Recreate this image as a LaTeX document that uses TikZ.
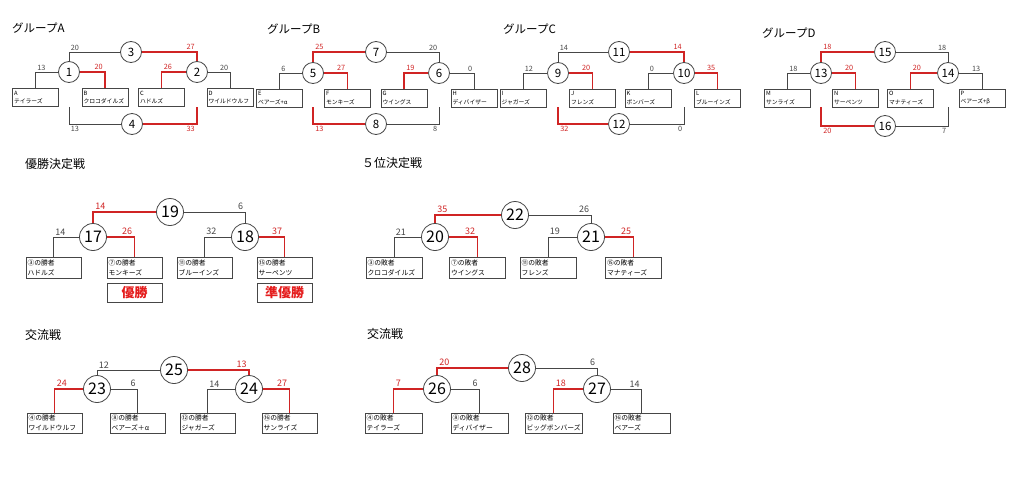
\documentclass[tikz,border=0pt]{standalone}
\usepackage{fontspec}
\setmainfont{Noto Sans CJK JP}
\definecolor{linec}{RGB}{70,70,70}
\definecolor{winred}{RGB}{208,36,36}
\definecolor{resred}{RGB}{228,28,28}

\begin{document}
\begin{tikzpicture}[x=1pt,y=-1pt,
  game/.style={circle, draw=linec, line width=0.8pt, minimum size=21pt, inner sep=0pt, font=\fontsize{11.5}{11.5}\selectfont},
  fgame/.style={game, minimum size=27pt, font=\fontsize{16}{16}\selectfont},
  team/.style={draw=linec, line width=0.8pt, align=left, inner xsep=1.5pt, inner ysep=1pt, text width=43pt, minimum height=18pt, font=\fontsize{5.8}{8.5}\selectfont},
  fteam/.style={team, text width=52pt, minimum height=21pt, font=\fontsize{6.8}{10}\selectfont},
  res/.style={draw=linec, line width=0.8pt, minimum width=55pt, minimum height=19pt, inner sep=0pt, text=resred, font=\fontsize{13}{13}\selectfont\bfseries},
  title/.style={anchor=west, inner sep=0pt, font=\fontsize{11.5}{11.5}\selectfont},
  lose/.style={draw=linec, line width=0.8pt},
  win/.style={draw=winred, line width=1.6pt},
  sc/.style={inner sep=1.5pt, text=linec, font=\fontsize{7.3}{7.3}\selectfont},
  scr/.style={sc, text=winred},
  fsc/.style={sc, font=\fontsize{9}{9}\selectfont},
  fscr/.style={fsc, text=winred}]
\useasboundingbox (0,0) rectangle (1024,482);

\node[title] (tA) at (12,28) {グループA};
\node[title] (tB) at (267,29) {グループB};
\node[title] (tC) at (503,29) {グループC};
\node[title] (tD) at (762,33) {グループD};
\node[title, font=\fontsize{12}{12}\selectfont] (tF1) at (25,164) {優勝決定戦};
\node[title, font=\fontsize{12}{12}\selectfont] (tF5) at (362,163) {５位決定戦};
\node[title, font=\fontsize{12}{12}\selectfont] (tX1) at (25,335) {交流戦};
\node[title, font=\fontsize{12}{12}\selectfont] (tX2) at (367,334) {交流戦};

\node[team] (bA) at (35.5,97.5) {A\\テイラーズ};
\node[team] (bB) at (105,97.5) {B\\クロコダイルズ};
\node[team] (bC) at (161.5,97.5) {C\\ハドルズ};
\node[team] (bD) at (230,97.5) {D\\ワイルドウルフ};
\node[game] (g1) at (69,72) {1};
\node[game] (g2) at (197,72) {2};
\node[game] (g3) at (131,52) {3};
\node[game] (g4) at (132,124) {4};
\coordinate (a4l) at (g1 |- bA.south);
\coordinate (a4r) at (g2 |- bA.south);
\draw[lose] (g1.west) -| (bA.north) node[sc, pos=.5, above right] {13};
\draw[win] (g1.east) -| (bB.north) node[scr, pos=.5, above left] {20};
\draw[lose] (g1.north) |- (g3.west) node[sc, pos=.5, above right] {20};
\draw[win] (g3.east) -| (g2.north) node[scr, pos=.5, above left] {27};
\draw[win] (g2.west) -| (bC.north) node[scr, pos=.5, above right] {26};
\draw[lose] (g2.east) -| (bD.north) node[sc, pos=.5, above left] {20};
\draw[lose] (a4l) |- (g4.west) node[sc, pos=.5, below right] {13};
\draw[win] (g4.east) -| (a4r) node[scr, pos=.5, below left] {33};

\node[team] (bE) at (279.5,98) {E\\ベアーズ+α};
\node[team] (bF) at (347.5,98) {F\\モンキーズ};
\node[team] (bG) at (404,98) {G\\ウイングス};
\node[team] (bH) at (474,98) {H\\ディバイザー};
\node[game] (g5) at (313,73) {5};
\node[game] (g6) at (439,73) {6};
\node[game] (g7) at (376,52) {7};
\node[game] (g8) at (376,124) {8};
\coordinate (a8l) at (g5 |- bE.south);
\coordinate (a8r) at (g6 |- bE.south);
\draw[lose] (g5.west) -| (bE.north) node[sc, pos=.5, above right] {6};
\draw[win] (g5.east) -| (bF.north) node[scr, pos=.5, above left] {27};
\draw[win] (g5.north) |- (g7.west) node[scr, pos=.5, above right] {25};
\draw[lose] (g7.east) -| (g6.north) node[sc, pos=.5, above left] {20};
\draw[win] (g6.west) -| (bG.north) node[scr, pos=.5, above right] {19};
\draw[lose] (g6.east) -| (bH.north) node[sc, pos=.5, above left] {0};
\draw[win] (a8l) |- (g8.west) node[scr, pos=.5, below right] {13};
\draw[lose] (g8.east) -| (a8r) node[sc, pos=.5, below left] {8};

\node[team] (bI) at (523,98) {I\\ジャガーズ};
\node[team] (bJ) at (592.5,98) {J\\フレンズ};
\node[team] (bK) at (648,98) {K\\ボンバーズ};
\node[team] (bL) at (717.5,98) {L\\ブルーインズ};
\node[game] (g9) at (558,73) {9};
\node[game] (g10) at (684,73) {10};
\node[game] (g11) at (619,52) {11};
\node[game] (g12) at (619,124) {12};
\coordinate (a12l) at (g9 |- bI.south);
\coordinate (a12r) at (g10 |- bI.south);
\draw[lose] (g9.west) -| (bI.north) node[sc, pos=.5, above right] {12};
\draw[win] (g9.east) -| (bJ.north) node[scr, pos=.5, above left] {20};
\draw[lose] (g9.north) |- (g11.west) node[sc, pos=.5, above right] {14};
\draw[win] (g11.east) -| (g10.north) node[scr, pos=.5, above left] {14};
\draw[lose] (g10.west) -| (bK.north) node[sc, pos=.5, above right] {0};
\draw[win] (g10.east) -| (bL.north) node[scr, pos=.5, above left] {35};
\draw[win] (a12l) |- (g12.west) node[scr, pos=.5, below right] {32};
\draw[lose] (g12.east) -| (a12r) node[sc, pos=.5, below left] {0};

\node[team] (bM) at (787.5,98) {M\\サンライズ};
\node[team] (bN) at (855.5,98) {N\\サーペンツ};
\node[team] (bO) at (910.5,98) {O\\マナティーズ};
\node[team] (bP) at (982,98) {P\\ベアーズ+β};
\node[game] (g13) at (821,73) {13};
\node[game] (g14) at (948,73) {14};
\node[game] (g15) at (885,52) {15};
\node[game] (g16) at (885,126) {16};
\coordinate (a16l) at (g13 |- bM.south);
\coordinate (a16r) at (g14 |- bM.south);
\draw[lose] (g13.west) -| (bM.north) node[sc, pos=.5, above right] {18};
\draw[win] (g13.east) -| (bN.north) node[scr, pos=.5, above left] {20};
\draw[win] (g13.north) |- (g15.west) node[scr, pos=.5, above right] {18};
\draw[lose] (g15.east) -| (g14.north) node[sc, pos=.5, above left] {18};
\draw[win] (g14.west) -| (bO.north) node[scr, pos=.5, above right] {20};
\draw[lose] (g14.east) -| (bP.north) node[sc, pos=.5, above left] {13};
\draw[win] (a16l) |- (g16.west) node[scr, pos=.5, below right] {20};
\draw[lose] (g16.east) -| (a16r) node[sc, pos=.5, below left] {7};

\node[fteam] (w3) at (53.5,267.5) {③の勝者\\ハドルズ};
\node[fteam] (w7) at (134.5,267.5) {⑦の勝者\\モンキーズ};
\node[fteam] (w11) at (204.5,267.5) {⑪の勝者\\ブルーインズ};
\node[fteam] (w15) at (284.5,267.5) {⑮の勝者\\サーペンツ};
\node[res] (r1) at (134.5,292.5) {優勝};
\node[res] (r2) at (284.5,292.5) {準優勝};
\node[fgame] (g17) at (93,237) {17};
\node[fgame] (g18) at (245,237) {18};
\node[fgame] (g19) at (170,212) {19};
\draw[lose] (g17.west) -| (w3.north) node[fsc, pos=.5, above right] {14};
\draw[win] (g17.east) -| (w7.north) node[fscr, pos=.5, above left] {26};
\draw[win] (g17.north) |- (g19.west) node[fscr, pos=.5, above right] {14};
\draw[lose] (g19.east) -| (g18.north) node[fsc, pos=.5, above left] {6};
\draw[lose] (g18.west) -| (w11.north) node[fsc, pos=.5, above right] {32};
\draw[win] (g18.east) -| (w15.north) node[fscr, pos=.5, above left] {37};

\node[fteam, text width=53pt] (l3) at (394,267.5) {③の敗者\\クロコダイルズ};
\node[fteam, text width=53pt] (l7) at (477.5,267.5) {⑦の敗者\\ウイングス};
\node[fteam, text width=53pt] (l11) at (548,267.5) {⑪の敗者\\フレンズ};
\node[fteam, text width=53pt] (l15) at (633.5,267.5) {⑮の敗者\\マナティーズ};
\node[fgame] (g20) at (435,237) {20};
\node[fgame] (g21) at (591,237) {21};
\node[fgame] (g22) at (515,215) {22};
\draw[lose] (g20.west) -| (l3.north) node[fsc, pos=.5, above right] {21};
\draw[win] (g20.east) -| (l7.north) node[fscr, pos=.5, above left] {32};
\draw[win] (g20.north) |- (g22.west) node[fscr, pos=.5, above right] {35};
\draw[lose] (g22.east) -| (g21.north) node[fsc, pos=.5, above left] {26};
\draw[lose] (g21.west) -| (l11.north) node[fsc, pos=.5, above right] {19};
\draw[win] (g21.east) -| (l15.north) node[fscr, pos=.5, above left] {25};

\node[fteam, minimum height=20pt] (w4) at (54.5,423) {④の勝者\\ワイルドウルフ};
\node[fteam, minimum height=20pt] (w8) at (137.5,423) {⑧の勝者\\ベアーズ＋α};
\node[fteam, minimum height=20pt] (w12) at (207.5,423) {⑫の勝者\\ジャガーズ};
\node[fteam, minimum height=20pt] (w16) at (289.5,423) {⑯の勝者\\サンライズ};
\node[fgame] (g23) at (97,389) {23};
\node[fgame] (g24) at (249,389) {24};
\node[fgame] (g25) at (174,370) {25};
\draw[win] (g23.west) -| (w4.north) node[fscr, pos=.5, above right] {24};
\draw[lose] (g23.east) -| (w8.north) node[fsc, pos=.5, above left] {6};
\draw[lose] (g23.north) |- (g25.west) node[fsc, pos=.5, above right] {12};
\draw[win] (g25.east) -| (g24.north) node[fscr, pos=.5, above left] {13};
\draw[lose] (g24.west) -| (w12.north) node[fsc, pos=.5, above right] {14};
\draw[win] (g24.east) -| (w16.north) node[fscr, pos=.5, above left] {27};

\node[fteam, text width=54pt, minimum height=20pt] (l4) at (393.5,423) {④の敗者\\テイラーズ};
\node[fteam, text width=54pt, minimum height=20pt] (l8) at (479.5,423) {⑧の敗者\\ディバイザー};
\node[fteam, text width=54pt, minimum height=20pt] (l12) at (553.5,423) {⑫の敗者\\ビッグボンバーズ};
\node[fteam, text width=54pt, minimum height=20pt] (l16) at (641.5,423) {⑯の敗者\\ベアーズ};
\node[fgame] (g26) at (437,389) {26};
\node[fgame] (g27) at (597,389) {27};
\node[fgame] (g28) at (522,368) {28};
\draw[win] (g26.west) -| (l4.north) node[fscr, pos=.5, above right] {7};
\draw[lose] (g26.east) -| (l8.north) node[fsc, pos=.5, above left] {6};
\draw[win] (g26.north) |- (g28.west) node[fscr, pos=.5, above right] {20};
\draw[lose] (g28.east) -| (g27.north) node[fsc, pos=.5, above left] {6};
\draw[win] (g27.west) -| (l12.north) node[fscr, pos=.5, above right] {18};
\draw[lose] (g27.east) -| (l16.north) node[fsc, pos=.5, above left] {14};
\end{tikzpicture}
\end{document}
